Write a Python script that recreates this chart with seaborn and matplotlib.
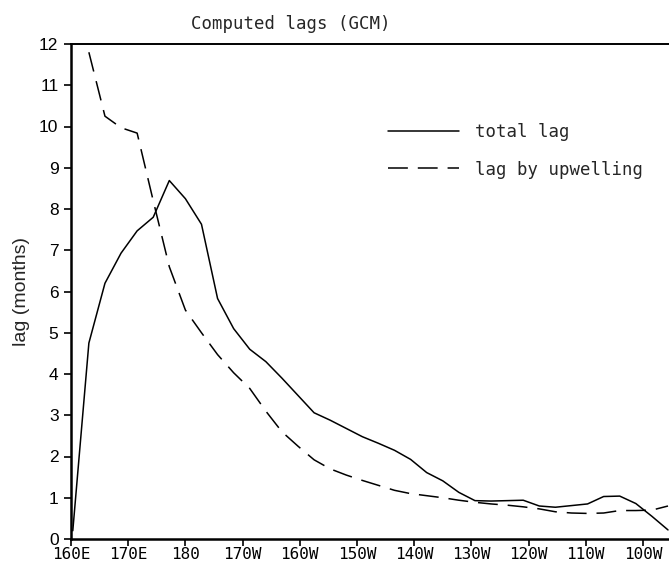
import matplotlib
matplotlib.use("Agg")
import matplotlib.pyplot as plt
import numpy as np
import pandas as pd
import seaborn as sns

# Model grid longitudes (degrees east) along the equator
lon = [160.3125, 163.125, 165.9375, 168.75, 171.5625, 174.375, 177.1875, 180.0,
       182.8125, 185.625, 188.4375, 191.25, 194.0625, 196.875, 199.6875, 202.5,
       205.3125, 208.125, 210.9375, 213.75, 216.5625, 219.375, 222.1875, 225.0,
       227.8125, 230.625, 233.4375, 236.25, 239.0625, 241.875, 244.6875, 247.5,
       250.3125, 253.125, 255.9375, 258.75, 261.5625, 264.375]

# Lags in months
total_lag = [0.2, 4.75, 6.2, 6.93, 7.47, 7.8, 8.69, 8.25, 7.63, 5.83, 5.1, 4.6,
             4.3, 3.9, 3.48, 3.06, 2.88, 2.68, 2.48, 2.32, 2.15, 1.93, 1.61, 1.41,
             1.13, 0.93, 0.92, 0.93, 0.94, 0.80, 0.77, 0.81, 0.85, 1.03, 1.04,
             0.86, 0.55, 0.22]
upwelling_lag = [np.nan, 11.8, 10.25, 9.97, 9.84, 8.2, 6.6, 5.55, 5.0, 4.47, 4.03,
                 3.65, 3.1, 2.6, 2.25, 1.92, 1.7, 1.55, 1.42, 1.3, 1.18, 1.1, 1.05,
                 1.0, 0.94, 0.89, 0.85, 0.82, 0.78, 0.73, 0.66, 0.63, 0.62, 0.63,
                 0.69, 0.69, 0.70, 0.80]

series_names = ["total lag", "lag by upwelling"]

xtick_pos = [160, 170, 180, 190, 200, 210, 220, 230, 240, 250, 260]
xtick_labels = ["160E", "170E", "180", "170W", "160W", "150W", "140W",
                "130W", "120W", "110W", "100W"]
ytick_pos = list(range(0, 13))

df = pd.concat([
    pd.DataFrame({"lon": lon, "lag": total_lag, "series": series_names[0]}),
    pd.DataFrame({"lon": lon, "lag": upwelling_lag, "series": series_names[1]}),
]).dropna()

sns.set_style("ticks")
plt.rcParams["font.family"] = ["DejaVu Sans Mono", "DejaVu Sans"]

W, H = 669, 565
fig = plt.figure(figsize=(W / 100, H / 100), dpi=100)
ax = fig.add_axes([71 / W, 26 / H, 1 - 71 / W, (539 - 44) / H])

sns.lineplot(data=df, x="lon", y="lag", style="series", style_order=series_names,
             dashes={"total lag": "", "lag by upwelling": (13, 6.5)},
             color="black", linewidth=1.1, estimator=None, ax=ax)

ax.set_xlim(160, 264.55)
ax.set_ylim(0, 12)
ax.set_xticks(xtick_pos)
ax.set_xticklabels(xtick_labels, fontsize=11.5, family=["DejaVu Sans Mono"])
ax.set_yticks(ytick_pos)
ax.set_yticklabels([str(v) for v in ytick_pos], fontsize=12.5,
                   family=["Liberation Sans", "DejaVu Sans"])
ax.tick_params(direction="out", length=5, width=1.2, colors="black")
ax.tick_params(axis="x", pad=1)
ax.tick_params(axis="y", pad=4)

ax.spines["right"].set_visible(False)
ax.spines["left"].set_linewidth(1.8)
ax.spines["bottom"].set_linewidth(1.8)
ax.spines["top"].set_linewidth(1.4)
for s in ax.spines.values():
    s.set_color("black")

ax.set_xlabel("")
ax.set_ylabel("lag (months)", fontsize=14, family=["Liberation Sans", "DejaVu Sans"])
ax.yaxis.set_label_coords(-0.0686, 0.5)

fig.text(291 / W, 1 - 24 / H, "Computed lags (GCM)", ha="center", va="center",
         fontsize=12.5)

handles, labels = ax.get_legend_handles_labels()
keep = [(h, l) for h, l in zip(handles, labels) if l in series_names]
for h, _ in keep:
    h.set_color("black")
    h.set_linewidth(1.1)
ax.legend([h for h, _ in keep], [l for _, l in keep],
          loc="center left", bbox_to_anchor=(388 / W, 1 - 151 / H),
          bbox_transform=fig.transFigure, frameon=False, fontsize=12.5,
          handlelength=4.1, handletextpad=0.9, labelspacing=1.1,
          borderpad=0, borderaxespad=0)

fig.savefig("out.png", dpi=100)
